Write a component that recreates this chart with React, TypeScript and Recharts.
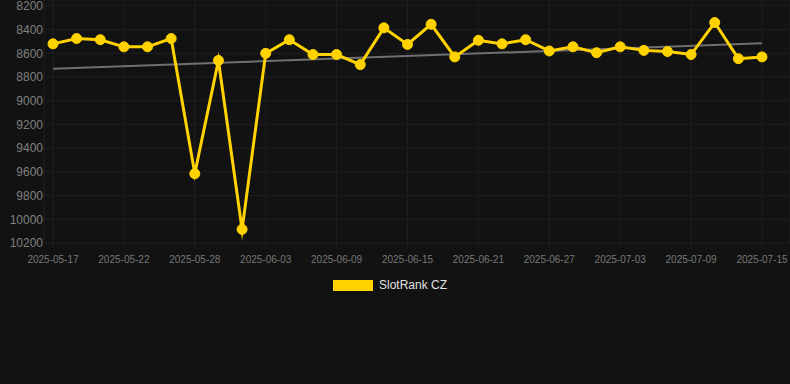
import { LineChart, Line, XAxis, YAxis, CartesianGrid, Legend } from "recharts"

const dates = [
    '2025-05-17', '2025-05-19', '2025-05-20', '2025-05-22', '2025-05-24', '2025-05-26',
    '2025-05-28', '2025-05-30', '2025-06-01', '2025-06-03', '2025-06-05', '2025-06-07',
    '2025-06-09', '2025-06-11', '2025-06-13', '2025-06-15', '2025-06-17', '2025-06-19',
    '2025-06-21', '2025-06-23', '2025-06-25', '2025-06-27', '2025-06-29', '2025-07-01',
    '2025-07-03', '2025-07-05', '2025-07-07', '2025-07-09', '2025-07-11', '2025-07-13',
    '2025-07-15',
];

const rank = [
    8520, 8475, 8485, 8545, 8545, 8475, 9615, 8660, 10085, 8600, 8485,
    8610, 8610, 8695, 8385, 8525, 8355, 8630, 8490, 8520, 8485, 8580,
    8545, 8595, 8545, 8575, 8585, 8610, 8340, 8645, 8630,
];

// trend line endpoints (first and last date)
const trendStart = 8730;
const trendEnd = 8515;

const yTicks = [8200, 8400, 8600, 8800, 9000, 9200, 9400, 9600, 9800, 10000, 10200];

const data = dates.map((date, i) => ({
    date,
    rank: rank[i],
    trend: i === 0 ? trendStart : i === dates.length - 1 ? trendEnd : null,
}));

const yellow = "#FFD200";
const grid = "#1f1f1f";

const renderLegend = (props: any) => {
    const items = (props.payload || []).filter((p: any) => p.type !== 'none');
    return (
        <div style={{ display: 'flex', justifyContent: 'center', paddingRight: 10 }}>
            {items.map((item: any) => (
                <div key={item.value} style={{ display: 'flex', alignItems: 'center' }}>
                    <span style={{ display: 'inline-block', width: 40, height: 11, background: item.color, marginRight: 6 }} />
                    <span style={{ color: '#e0e0e0', fontSize: 12 }}>{item.value}</span>
                </div>
            ))}
        </div>
    );
};

export default function App() {
    return (
        <div style={{ position: 'absolute', left: 0, top: 0, width: 790, height: 384, background: '#121212', fontFamily: '"Liberation Sans", Arial, sans-serif' }}>
            <LineChart width={790} height={384} data={data} margin={{ top: 0, right: 0, left: 0, bottom: 111 }}>
                <CartesianGrid stroke={grid} />
                <XAxis
                    dataKey="date"
                    interval={2}
                    padding={{ left: 9, right: 28 }}
                    height={30}
                    tick={{ fill: '#777', fontSize: 10 }}
                    tickLine={{ stroke: grid }}
                    tickSize={5}
                    tickMargin={8}
                    axisLine={false}
                />
                <YAxis
                    type="number"
                    reversed
                    domain={[8150, 10200]}
                    ticks={yTicks}
                    interval={0}
                    allowDataOverflow
                    width={44}
                    tick={{ fill: '#808080', fontSize: 12 }}
                    tickLine={false}
                    tickSize={0}
                    tickMargin={1}
                    axisLine={false}
                />
                <Legend
                    layout="horizontal"
                    verticalAlign="middle"
                    align="center"
                    wrapperStyle={{ top: 278, left: 0, width: 790 }}
                    content={renderLegend}
                />
                <Line
                    dataKey="trend"
                    legendType="none"
                    stroke="#707070"
                    strokeWidth={2}
                    dot={false}
                    activeDot={false}
                    connectNulls
                    isAnimationActive={false}
                />
                <Line
                    dataKey="rank"
                    name="SlotRank CZ"
                    stroke={yellow}
                    strokeWidth={3}
                    strokeLinejoin="miter"
                    strokeMiterlimit={10}
                    dot={{ r: 5, fill: yellow, stroke: yellow, strokeWidth: 1 }}
                    activeDot={false}
                    isAnimationActive={false}
                />
            </LineChart>
        </div>
    )
}
